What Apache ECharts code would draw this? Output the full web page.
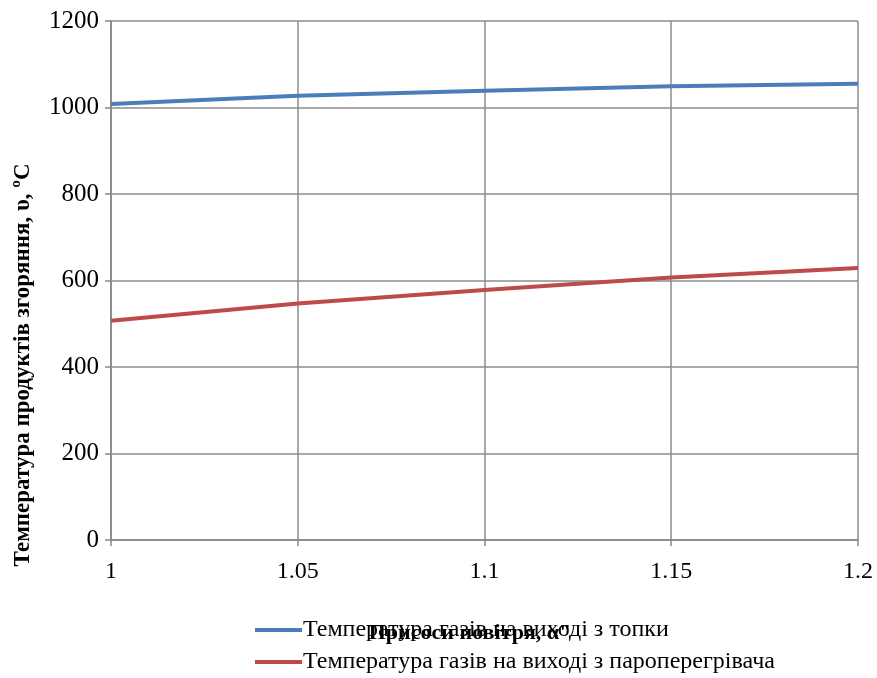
<!DOCTYPE html>
<html><head><meta charset="utf-8">
<script src="https://cdn.jsdelivr.net/npm/echarts@6/dist/echarts.min.js"></script>
<style>html,body{margin:0;padding:0;background:#fff}#c{width:877px;height:678px}</style>
</head><body><div id="c"></div>
<script>
const xValues = [1, 1.05, 1.1, 1.15, 1.2];
const furnaceExit = [1008, 1027, 1039, 1049, 1055];
const superheaterExit = [507, 547, 578, 607, 629];
const seriesNames = ['Температура газів на виході з топки', 'Температура газів на виході з пароперегрівача'];
const yTitle = 'Температура продуктів згоряння, υ, ºC';
const xTitle = 'Присоси повітря, α"';

const font = 'Liberation Serif';
const legendBase = {
  orient: 'horizontal', left: 250, itemWidth: 47, itemHeight: 4, icon: 'rect',
  textStyle: {fontFamily: font, fontSize: 24, color: '#000', padding: [0,0,0,-4]}
};
const chart = echarts.init(document.getElementById('c'));
chart.setOption({
  animation: false,
  backgroundColor: '#fff',
  grid: {left: 111, right: 19, top: 21, bottom: 138},
  xAxis: {
    type: 'value', min: 1, max: 1.2, interval: 0.05,
    axisLine: {lineStyle: {color: '#868686', width: 1.5}},
    axisTick: {show: true, length: 6, lineStyle: {color: '#868686', width: 1.5}},
    splitLine: {show: true, lineStyle: {color: '#8c8c8c', width: 1.5}},
    axisLabel: {fontFamily: font, fontSize: 24, color: '#000', margin: 20,
      formatter: v => String(Math.round(v * 100) / 100)}
  },
  yAxis: {
    type: 'value', min: 0, max: 1200, interval: 200,
    axisLine: {show: true, lineStyle: {color: '#868686', width: 1.5}},
    axisTick: {show: true, length: 6, lineStyle: {color: '#868686', width: 1.5}},
    splitLine: {show: true, lineStyle: {color: '#8c8c8c', width: 1.5}},
    axisLabel: {fontFamily: font, fontSize: 25, color: '#000', margin: 12,
      formatter: v => String(v)}
  },
  legend: [
    Object.assign({}, legendBase, {top: 613, data: [seriesNames[0]]}),
    Object.assign({}, legendBase, {top: 645, data: [seriesNames[1]]})
  ],
  series: [
    {name: seriesNames[0], type: 'line', data: xValues.map((x, i) => [x, furnaceExit[i]]),
     showSymbol: false, symbol: 'none', lineStyle: {color: '#4a7ebb', width: 4}, itemStyle: {color: '#4a7ebb'}},
    {name: seriesNames[1], type: 'line', data: xValues.map((x, i) => [x, superheaterExit[i]]),
     showSymbol: false, symbol: 'none', lineStyle: {color: '#be4b48', width: 4}, itemStyle: {color: '#be4b48'}}
  ],
  graphic: [
    {type: 'text', x: 23, y: 365, rotation: Math.PI / 2,
     style: {text: yTitle, fontFamily: font, fontWeight: 'bold', fontSize: 23, fill: '#000', align: 'center', verticalAlign: 'middle'}},
    {type: 'text', x: 470, y: 633,
     style: {text: xTitle, fontFamily: font, fontWeight: 'bold', fontSize: 22, fill: '#000', align: 'center', verticalAlign: 'middle'}}
  ]
});
</script></body></html>
